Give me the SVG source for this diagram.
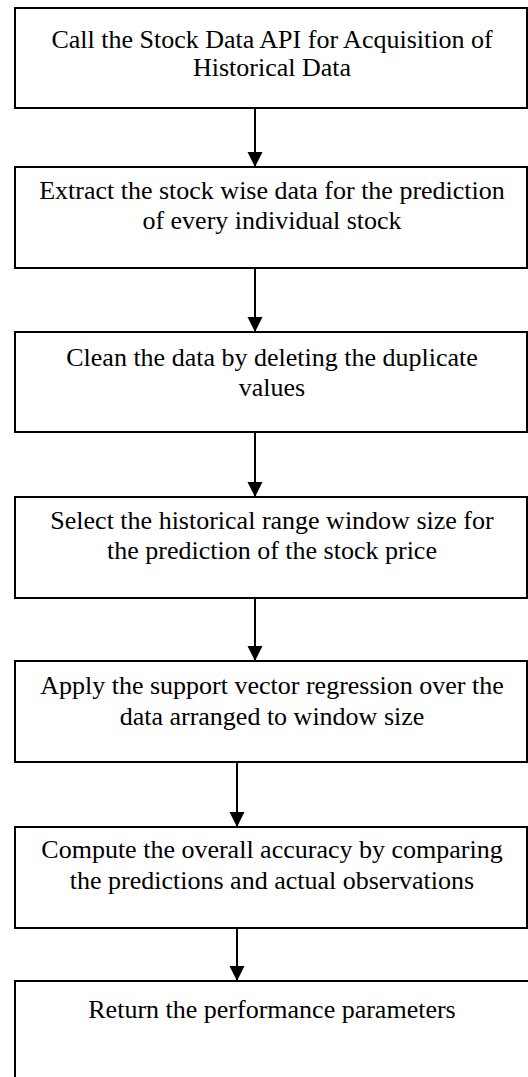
<svg xmlns="http://www.w3.org/2000/svg" width="528" height="1077" viewBox="0 0 528 1077">
<style>
.box{fill:#fff;stroke:#000;stroke-width:2}
.lbl{font-family:"Liberation Serif","Times New Roman",serif;font-size:26px;fill:#000;text-anchor:middle}
.edge{stroke:#000;stroke-width:2;fill:none;marker-end:url(#ah)}
</style>
<defs>
<marker id="ah" markerUnits="userSpaceOnUse" markerWidth="16" markerHeight="16" refX="15" refY="7.5" orient="auto">
<path d="M0,0 L15,7.5 L0,15 Z" fill="#000"/>
</marker>
</defs>
<rect width="528" height="1077" fill="#fff"/>
<g id="n1"><rect class="box" x="15" y="8" width="512" height="100"/>
<text class="lbl" x="272" y="48">Call the Stock Data API for Acquisition of</text>
<text class="lbl" x="272" y="76">Historical Data</text></g>
<g id="n2"><rect class="box" x="15" y="167" width="512" height="101"/>
<text class="lbl" x="272" y="199">Extract the stock wise data for the prediction</text>
<text class="lbl" x="272" y="229">of every individual stock</text></g>
<g id="n3"><rect class="box" x="15" y="332" width="512" height="100"/>
<text class="lbl" x="272" y="366">Clean the data by deleting the duplicate</text>
<text class="lbl" x="272" y="396">values</text></g>
<g id="n4"><rect class="box" x="15" y="497" width="512" height="101"/>
<text class="lbl" x="272" y="529">Select the historical range window size for</text>
<text class="lbl" x="272" y="559">the prediction of the stock price</text></g>
<g id="n5"><rect class="box" x="15" y="661" width="512" height="101"/>
<text class="lbl" x="272" y="694">Apply the support vector regression over the</text>
<text class="lbl" x="272" y="725">data arranged to window size</text></g>
<g id="n6"><rect class="box" x="15" y="827" width="512" height="101"/>
<text class="lbl" x="272" y="858">Compute the overall accuracy by comparing</text>
<text class="lbl" x="272" y="889">the predictions and actual observations</text></g>
<g id="n7"><rect class="box" x="15" y="981" width="520" height="110"/>
<text class="lbl" x="272" y="1018">Return the performance parameters</text></g>
<g id="edges">
<line class="edge" x1="255" y1="108" x2="255" y2="167"/>
<line class="edge" x1="255" y1="268" x2="255" y2="332"/>
<line class="edge" x1="255" y1="432" x2="255" y2="497"/>
<line class="edge" x1="255" y1="598" x2="255" y2="661"/>
<line class="edge" x1="237" y1="762" x2="237" y2="827"/>
<line class="edge" x1="237" y1="928" x2="237" y2="981"/>
</g>
</svg>
